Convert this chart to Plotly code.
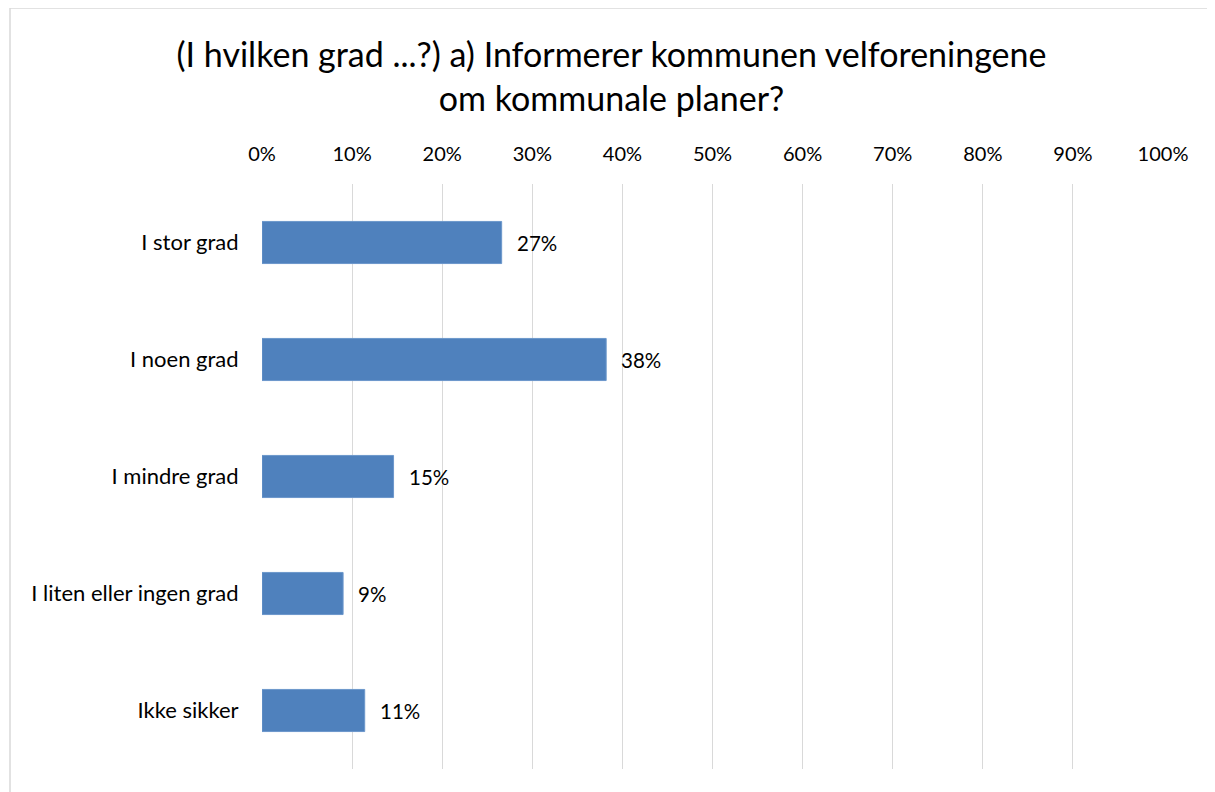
import plotly.graph_objects as go

categories = ["I stor grad", "I noen grad", "I mindre grad", "I liten eller ingen grad", "Ikke sikker"]
values = [26.6, 38.2, 14.6, 9.0, 11.4]
tick_vals = [0, 10, 20, 30, 40, 50, 60, 70, 80, 90, 100]
tick_text = [f"{v}%" for v in tick_vals]
title_lines = ["(I hvilken grad ...?) a) Informerer kommunen velforeningene", "om kommunale planer?"]

FONT = "Lato"
BAR = "#4F81BD"

fig = go.Figure()
fig.add_trace(go.Bar(
    x=values, y=categories, orientation="h",
    marker=dict(color=BAR, line=dict(color="#6C97CB", width=1)),
    width=0.36, hoverinfo="skip",
))

annotations = []
for c, v in zip(categories, values):
    annotations.append(dict(x=v, y=c, xref="x", yref="y", text=f"{round(v)}%",
                            showarrow=False, xanchor="left", xshift=13,
                            font=dict(family=FONT, size=20.5, color="#000")))

# page body adds an 8px offset
W, H = 1207, 784
L, R, T, B = 254, 52, 176, 23
pw, ph = W - L - R, H - T - B

border = dict(color="#D9D9D9", width=1.5)
fig.update_layout(
    width=W, height=H,
    margin=dict(l=L, r=R, t=T, b=B),
    paper_bgcolor="white", plot_bgcolor="white",
    showlegend=False,
    title=dict(text="<br>".join(title_lines), x=0.5, xanchor="center",
               y=1 - 59 / H, yanchor="top",
               font=dict(family=FONT, size=34, color="#000")),
    xaxis=dict(side="top", range=[0, 100], tickvals=tick_vals, ticktext=tick_text,
               showgrid=True, gridcolor="#D9D9D9", gridwidth=1.3, zeroline=False,
               showline=False, ticks="outside", ticklen=14, tickcolor="rgba(0,0,0,0)",
               tickfont=dict(family=FONT, size=20, color="#000"), fixedrange=True),
    yaxis=dict(autorange="reversed", showgrid=False, zeroline=False, showline=False,
               ticks="outside", ticklen=18, tickcolor="rgba(0,0,0,0)",
               tickfont=dict(family=FONT, size=22, color="#000"), fixedrange=True),
    annotations=annotations,
    shapes=[
        dict(type="line", xref="paper", yref="paper",
             x0=(2 - L) / pw, x1=(W - L) / pw, y0=1 + T / ph, y1=1 + T / ph,
             line=border, layer="below"),
        dict(type="line", xref="paper", yref="paper",
             x0=(2 - L) / pw, x1=(2 - L) / pw, y0=-B / ph, y1=1 + T / ph,
             line=border, layer="below"),
    ],
)

fig.write_html("out.html")
